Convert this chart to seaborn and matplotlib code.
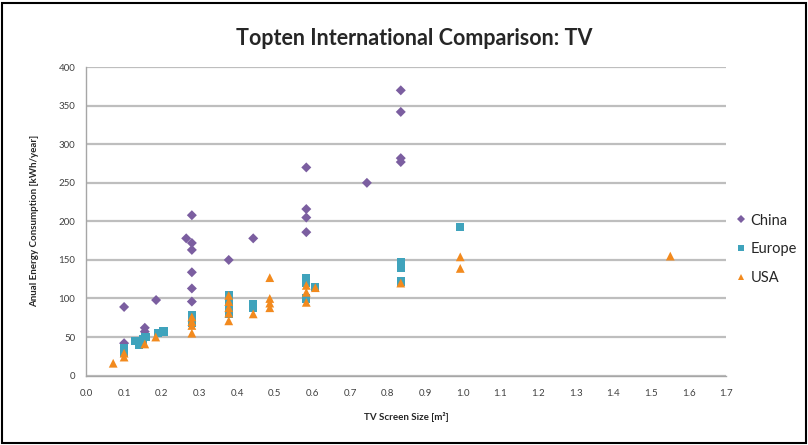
import numpy as np
import pandas as pd
import matplotlib
matplotlib.use('Agg')
import matplotlib.pyplot as plt
import seaborn as sns
from matplotlib.patches import Rectangle

# screen size [m2] and energy use [kWh/year]
china_x = [0.10, 0.10, 0.155, 0.155, 0.185, 0.265, 0.28, 0.28, 0.28, 0.28, 0.28, 0.28,
           0.378, 0.443, 0.584, 0.584, 0.584, 0.584, 0.745, 0.835, 0.835, 0.835, 0.835]
china_y = [89, 42, 62, 57, 98, 178, 208, 172, 163, 134, 113, 96,
           150, 178, 270, 216, 205, 186, 250, 370, 342, 282, 277]

europe_x = [0.10, 0.10, 0.13, 0.14, 0.15, 0.157, 0.19, 0.205, 0.28, 0.28, 0.28,
            0.378, 0.378, 0.378, 0.378, 0.443, 0.443, 0.584, 0.584, 0.584, 0.608,
            0.835, 0.835, 0.835, 0.993]
europe_y = [36, 30, 45, 40, 47, 50, 55, 57, 79, 73, 68,
            104, 96, 88, 80, 92, 88, 126, 120, 100, 115,
            147, 140, 122, 193]

usa_x = [0.071, 0.10, 0.10, 0.155, 0.184, 0.28, 0.28, 0.28, 0.28,
         0.378, 0.378, 0.378, 0.378, 0.378, 0.443, 0.487, 0.487, 0.487, 0.487,
         0.584, 0.584, 0.584, 0.608, 0.835, 0.993, 0.993, 1.551]
usa_y = [16, 29, 24, 41, 50, 76, 70, 65, 55,
         104, 96, 88, 81, 71, 80, 127, 100, 94, 88,
         117, 108, 95, 114, 120, 154, 139, 155]

regions = ['China', 'Europe', 'USA']

df = pd.concat([
    pd.DataFrame({'size': china_x, 'energy': china_y, 'Region': 'China'}),
    pd.DataFrame({'size': europe_x, 'energy': europe_y, 'Region': 'Europe'}),
    pd.DataFrame({'size': usa_x, 'energy': usa_y, 'Region': 'USA'}),
], ignore_index=True)

sns.set_style('white')
plt.rcParams['font.family'] = ['Lato', 'DejaVu Sans']

fig = plt.figure(figsize=(8.08, 4.45), dpi=100)
ax = fig.add_axes([0.107, 0.156, 0.792, 0.693])

palette = {'China': '#7B5EA0', 'Europe': '#3FA3BC', 'USA': '#F28A1E'}
markers = {'China': 'D', 'Europe': 's', 'USA': '^'}
sizes = {'China': 26, 'Europe': 36, 'USA': 40}
sns.scatterplot(data=df, x='size', y='energy', hue='Region', style='Region', size='Region',
                hue_order=regions, style_order=regions, size_order=regions,
                palette=palette, markers=markers, sizes=sizes, linewidth=0, ax=ax)

ax.set_xlim(0, 1.7)
ax.set_ylim(0, 400)
ax.set_xticks(np.arange(0, 1.71, 0.1))
ax.set_xticklabels([f'{v:.1f}' for v in np.arange(0, 1.71, 0.1)])
ax.set_yticks(range(0, 401, 50))
ax.yaxis.grid(True, color='#BEBEBE', linewidth=1.6)
ax.xaxis.grid(False)
ax.set_axisbelow(True)

for s in ['top', 'right']:
    ax.spines[s].set_visible(False)
for s in ['left', 'bottom']:
    ax.spines[s].set_color('#A6A6A6')
    ax.spines[s].set_linewidth(1.0)
ax.tick_params(axis='both', which='both', direction='out', length=4, width=1,
               color='#A6A6A6', labelsize=7, labelcolor='#404040', pad=4)
ax.tick_params(axis='x', pad=6)

ax.set_xlabel('TV Screen Size [m²]', fontsize=7, fontweight='bold', labelpad=10)
ax.set_ylabel('Anual Energy Consumption [kWh/year]', fontsize=7, fontweight='bold', labelpad=14)
fig.text(0.512, 0.913, 'Topten International Comparison: TV', ha='center', va='center',
         fontsize=15.5, fontweight='bold')

leg = ax.legend(loc='center left', bbox_to_anchor=(1.014, 0.41), frameon=False,
                fontsize=10.5, handletextpad=0.25, handlelength=0.8, labelspacing=1.0,
                markerscale=0.75, borderaxespad=0, borderpad=0)

fig.patches.append(Rectangle((0.003, 0.004), 0.994, 0.99, transform=fig.transFigure,
                             fill=False, edgecolor='black', linewidth=1.5))

fig.savefig('out.png', dpi=100)
